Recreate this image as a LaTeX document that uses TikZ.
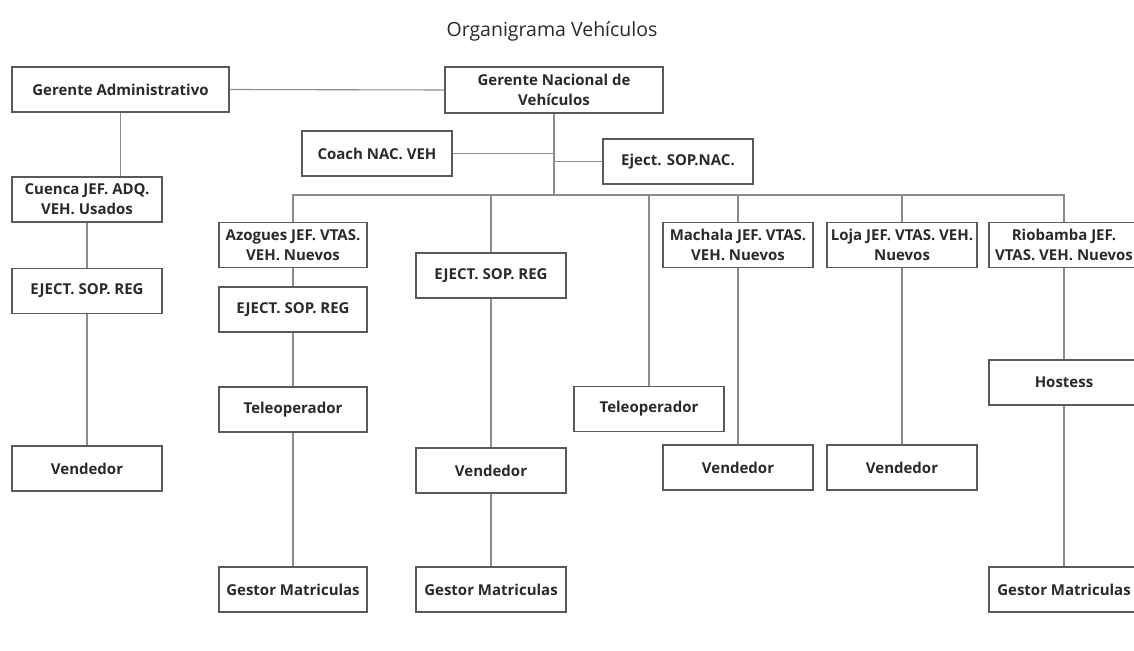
\documentclass[tikz,border=0pt]{standalone}
\usepackage{fontspec}
\setmainfont{Open Sans}
\begin{document}
\begin{tikzpicture}[x=1pt,y=-1pt,
  box/.style={draw=boxgray, line width=1.1pt, fill=white, text=txtgray,
    minimum width=150pt, minimum height=45pt, inner sep=0pt, align=center,
    font=\fontsize{15}{20}\selectfont\bfseries},
  link/.style={draw=linegray, line width=1.1pt}]
\definecolor{boxgray}{HTML}{5A5A5A}
\definecolor{linegray}{HTML}{8C8C8C}
\definecolor{txtgray}{HTML}{2A2A2A}
\useasboundingbox (0,0) rectangle (1134,650);
\clip (0,0) rectangle (1134,650);
\fill[white] (0,0) rectangle (1134,650);

\node[text=txtgray, font=\fontsize{19.5}{22}\selectfont] (title) at (552,31) {Organigrama Vehículos};

% top level
\node[box, minimum width=217pt] (ga) at (120.5,89.5) {Gerente Administrativo};
\node[box, minimum width=218pt, minimum height=46pt] (gn) at (554,90) {Gerente Nacional de\\Vehículos};
\node[box] (coach) at (377,153.5) {Coach NAC. VEH};
\node[box] (ejnac) at (678,161.5) {Eject. SOP.NAC.};

% left column
\node[box] (cuenca) at (87,199.5) {Cuenca JEF. ADQ.\\VEH. Usados};
\node[box] (ejl) at (87,291) {EJECT. SOP. REG};
\node[box] (venl) at (87,468.5) {Vendedor};

% Azogues column
\node[box, minimum width=148pt] (azo) at (293,245) {Azogues JEF. VTAS.\\VEH. Nuevos};
\node[box, minimum width=148pt] (eja) at (293,309.5) {EJECT. SOP. REG};
\node[box, minimum width=148pt] (tela) at (293,409.5) {Teleoperador};
\node[box, minimum width=148pt] (gesa) at (293,589.5) {Gestor Matriculas};

% middle column
\node[box] (ejm) at (491,275.5) {EJECT. SOP. REG};
\node[box] (venm) at (491,470.5) {Vendedor};
\node[box] (gesm) at (491,589.5) {Gestor Matriculas};

% Teleoperador
\node[box] (telm) at (649,409) {Teleoperador};

% Machala
\node[box] (mach) at (738,245) {Machala JEF. VTAS.\\VEH. Nuevos};
\node[box] (venmach) at (738,467.5) {Vendedor};

% Loja
\node[box] (loja) at (902,245) {Loja JEF. VTAS. VEH.\\Nuevos};
\node[box] (venloja) at (902,467.5) {Vendedor};

% Riobamba
\node[box] (rio) at (1064,245) {Riobamba JEF.\\VTAS. VEH. Nuevos};
\node[box] (host) at (1064,382.5) {Hostess};
\node[box] (gesr) at (1064,589.5) {Gestor Matriculas};

\coordinate (bus) at (554,195);

% connectors
\draw[link] (ga.east) -- (gn.west);
\draw[link] (gn.south) -- (bus);
\draw[link] (coach.east) -- (gn.south |- coach.east);
\draw[link] (gn.south |- ejnac.west) -- (ejnac.west);
\draw[link] (azo.north) -- (azo.north |- bus) -- (rio.north |- bus) -- (rio.north);
\draw[link] (ejm.north) -- (ejm.north |- bus);
\draw[link] (telm.north) -- (telm.north |- bus);
\draw[link] (mach.north) -- (mach.north |- bus);
\draw[link] (loja.north) -- (loja.north |- bus);

\draw[link] (ga.south) -- (ga.south |- cuenca.north);
\draw[link] (cuenca) -- (ejl);
\draw[link] (ejl) -- (venl);

\draw[link] (azo) -- (eja);
\draw[link] (eja) -- (tela);
\draw[link] (tela) -- (gesa);

\draw[link] (ejm) -- (venm);
\draw[link] (venm) -- (gesm);

\draw[link] (mach) -- (venmach);
\draw[link] (loja) -- (venloja);

\draw[link] (rio) -- (host);
\draw[link] (host) -- (gesr);
\end{tikzpicture}
\end{document}
